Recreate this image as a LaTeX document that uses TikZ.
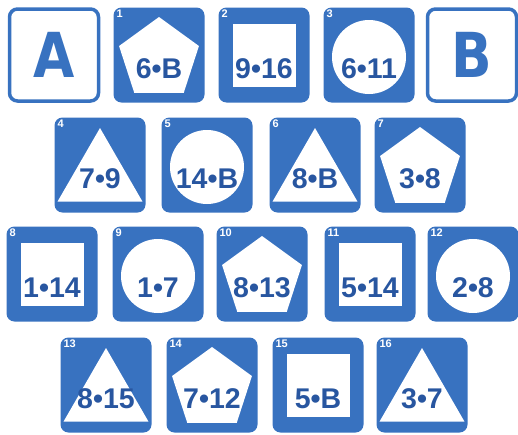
\documentclass[tikz,border=0pt]{standalone}
\usepackage{fontspec}
\setmainfont{Liberation Sans}
\newfontfamily\pairfont{Liberation Sans}
\newfontfamily\letterfont[FakeStretch=0.86]{DejaVu Sans}
\definecolor{tileblue}{RGB}{56,114,192}
\definecolor{pairblue}{RGB}{40,86,160}

\begin{document}
\begin{tikzpicture}[x=1pt,y=-1pt,
  tile/.style={fill=tileblue,rounded corners=8pt,minimum width=91pt,minimum height=95pt,
               inner sep=0pt,text=pairblue,font=\pairfont\bfseries\fontsize{28.5}{28.5}\selectfont,
               text height=46pt,text depth=0pt},
  letter/.style={draw=tileblue,line width=3.5pt,fill=white,rounded corners=8pt,
               minimum width=89pt,minimum height=92pt,inner sep=0pt,text=tileblue,
               font=\letterfont\bfseries\fontsize{62}{62}\selectfont},
  num/.style={anchor=north west,xshift=3pt,yshift=-2pt,inner sep=0pt,text=white,
               text height=8pt,text depth=0pt,font=\pairfont\bfseries\fontsize{11}{11}\selectfont},
  pent/.style={tile,label={[num]north west:#1},path picture={
      \fill[white,sharp corners] ([yshift=-4pt]path picture bounding box.center)
        +(90:42pt) -- +(162:42pt) -- +(234:42pt) -- +(306:42pt) -- +(18:42pt) -- cycle;}},
  tri/.style={tile,label={[num]north west:#1},path picture={
      \fill[white,sharp corners] ([yshift=-12pt]path picture bounding box.center)
        +(90:49pt) -- +(210:49pt) -- +(330:49pt) -- cycle;}},
  disc/.style={tile,label={[num]north west:#1},path picture={
      \fill[white] ([yshift=-2pt]path picture bounding box.center) circle[radius=37pt];}},
  sqr/.style={tile,label={[num]north west:#1},path picture={
      \fill[white,sharp corners] ([shift={(-31.5pt,-31.5pt)}]path picture bounding box.center)
        rectangle ([shift={(31.5pt,31.5pt)}]path picture bounding box.center);}}]
  \useasboundingbox (0,0) rectangle (518,434);
  % top row, with the two end cards
  \node[letter] (a)  at (54,55)  {A};
  \node[pent=1] (t1) at (159,55) {6•B};
  \node[sqr=2]  (t2) at (264,55) {9•16};
  \node[disc=3] (t3) at (369,55) {6•11};
  \node[letter] (b)  at (472,55) {B};
  % second row
  \node[tri=4]  (t4) at (100,165) {7•9};
  \node[disc=5] (t5) at (207,165) {14•B};
  \node[tri=6]  (t6) at (315,165) {8•B};
  \node[pent=7] (t7) at (420,165) {3•8};
  % third row
  \node[sqr=8]   (t8)  at (52,274)  {1•14};
  \node[disc=9]  (t9)  at (158,274) {1•7};
  \node[pent=10] (t10) at (262,274) {8•13};
  \node[sqr=11]  (t11) at (370,274) {5•14};
  \node[disc=12] (t12) at (473,274) {2•8};
  % bottom row
  \node[tri=13]  (t13) at (106,385) {8•15};
  \node[pent=14] (t14) at (212,385) {7•12};
  \node[sqr=15]  (t15) at (318,385) {5•B};
  \node[tri=16]  (t16) at (422,385) {3•7};
\end{tikzpicture}
\end{document}
